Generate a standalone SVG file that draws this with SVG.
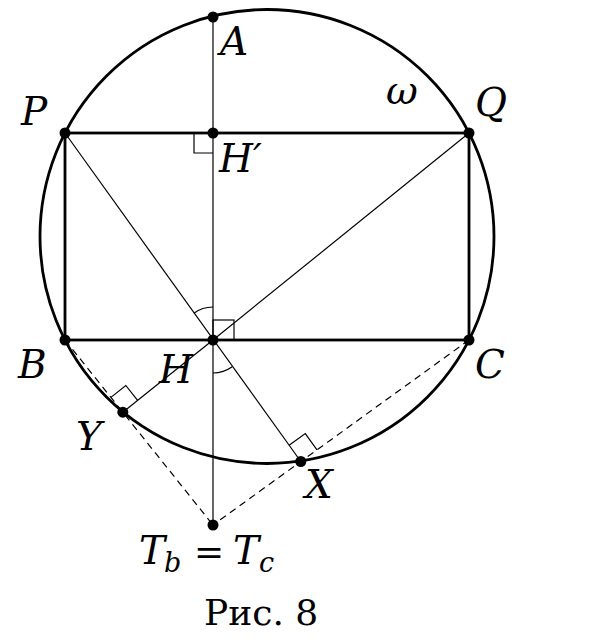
<svg xmlns="http://www.w3.org/2000/svg" width="616" height="640" viewBox="0 0 616 640">
<style>
.thick{fill:none;stroke:#000;stroke-width:2.8}
.thin{fill:none;stroke:#000;stroke-width:1.2}
.dash{fill:none;stroke:#000;stroke-width:1.2;stroke-dasharray:7 5}
.lab{font-family:"DejaVu Serif",serif;font-style:italic;font-size:39px;fill:#000}
.sub{font-family:"DejaVu Serif",serif;font-style:italic;font-size:27px;fill:#000}
.cap{font-family:"DejaVu Serif",serif;font-size:36px;fill:#000}
</style>
<rect width="616" height="640" fill="#fff"/>
<g id="connectors">
<circle class="thick" cx="267" cy="236.5" r="227"/>
<rect class="thick" x="65" y="133" width="404" height="207"/>
<line class="thin" x1="213" y1="17" x2="213" y2="525"/>
<line class="thin" x1="65" y1="133" x2="300.8" y2="461.5"/>
<line class="thin" x1="469" y1="133" x2="213" y2="340"/>
<line class="thin" x1="213" y1="340" x2="122.8" y2="412.2"/>
<line class="dash" x1="65" y1="340" x2="213" y2="525"/>
<line class="dash" x1="469" y1="340" x2="213" y2="525"/>
<polyline class="thin" points="194,133 194,153 213,153"/>
<rect class="thin" x="213" y="320" width="21" height="20"/>
<path class="thin" d="M213 307 A33 33 0 0 0 193.8 313.2"/>
<path class="thin" d="M213 373 A33 33 0 0 0 232.2 366.8"/>
<polyline class="thin" points="110.9,397.4 125.8,385.5 137.6,400.3"/>
<polyline class="thin" points="289.1,445.3 305.3,433.6 317,449.8"/>
</g>
<g id="A"><circle cx="213" cy="17" r="5.5"/><text class="lab" x="220" y="55">A</text></g>
<g id="P"><circle cx="65" cy="133" r="5.5"/><text class="lab" x="21" y="125">P</text></g>
<g id="Q"><circle cx="469" cy="133" r="5.5"/><text class="lab" x="475" y="116">Q</text></g>
<g id="omega"><text class="lab" x="386" y="104">ω</text></g>
<g id="Hp"><circle cx="213" cy="133" r="5.5"/><text class="lab" x="219" y="172">H′</text></g>
<g id="B"><circle cx="65" cy="340" r="5.5"/><text class="lab" x="18" y="378">B</text></g>
<g id="H"><circle cx="213" cy="340" r="5.5"/><text class="lab" x="159" y="383">H</text></g>
<g id="C"><circle cx="469" cy="340" r="5.5"/><text class="lab" x="475" y="378">C</text></g>
<g id="Y"><circle cx="122.8" cy="412.2" r="5.5"/><text class="lab" x="76" y="450">Y</text></g>
<g id="X"><circle cx="300.8" cy="461.5" r="5.5"/><text class="lab" x="305" y="498">X</text></g>
<g id="T"><circle cx="213" cy="525" r="5.5"/>
<text class="lab" x="139" y="564">T</text><text class="sub" x="164" y="572">b</text>
<text class="cap" x="194" y="564" font-size="40">=</text>
<text class="lab" x="233" y="564">T</text><text class="sub" x="259" y="572">c</text>
</g>
<g id="caption"><text class="cap" x="204" y="625">Рис. 8</text></g>
</svg>
